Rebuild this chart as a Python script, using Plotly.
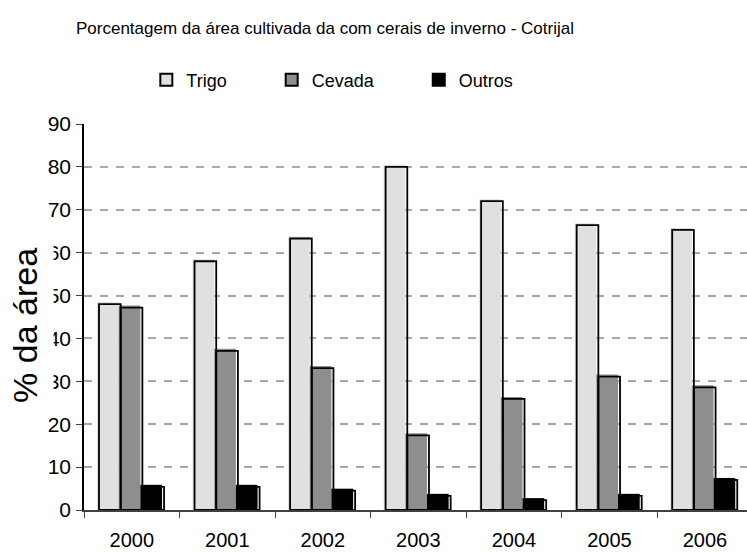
import plotly.graph_objects as go

years = ["2000", "2001", "2002", "2003", "2004", "2005", "2006"]
trigo = [48, 58, 63.3, 80, 72, 66.4, 65.3]
cevada = [47.2, 37.1, 33.1, 17.4, 25.9, 31.1, 28.6]
outros = [5.4, 5.4, 4.5, 3.3, 2.3, 3.3, 7.0]
y_ticks = [0, 10, 20, 30, 40, 50, 60, 70, 80, 90]

series = [
    ("Trigo", trigo, "#e0e0e0", -0.343),
    ("Cevada", cevada, "#8e8e8e", -0.116),
    ("Outros", outros, "#000000", 0.111),
]
bar_w = 0.227
dx = 0.021   # fill shift left (category units)
dy = 0.47    # fill shift up (value units)
PAD = "\u00a0" * 8

fig = go.Figure()

# shifted fills (shadow-like look)
for name, vals, col, off in series:
    fig.add_trace(go.Bar(
        x=years, y=[v + dy for v in vals], offset=off - dx, width=bar_w,
        marker=dict(color=col, line=dict(width=0)),
        showlegend=False, hoverinfo="skip"))

# outlines at true positions
for name, vals, col, off in series:
    fig.add_trace(go.Bar(
        x=years, y=vals, offset=off, width=bar_w, name=name,
        marker=dict(color="rgba(0,0,0,0)", line=dict(color="#000000", width=1.8)),
        showlegend=False))

# legend entries
for name, vals, col, off in series:
    fig.add_trace(go.Bar(
        x=[None], y=[None], name=name + PAD,
        marker=dict(color=col, line=dict(color="#000000", width=1.2))))

fig.update_layout(
    width=747, height=552,
    barmode="overlay",
    paper_bgcolor="white", plot_bgcolor="white",
    margin=dict(l=84, r=0, t=124, b=42, autoexpand=False),
    font=dict(family="Liberation Sans, Arial, sans-serif", color="#000000"),
    title=dict(text="Porcentagem da área cultivada da com cerais de inverno - Cotrijal",
               x=325 / 747, xanchor="center", xref="container",
               y=1 - 28 / 552, yanchor="middle", yref="container",
               font=dict(size=17, color="#000000")),
    legend=dict(orientation="h", x=0.094, xanchor="left", y=1 - 80 / 552,
                yanchor="middle", yref="container",
                font=dict(size=18), itemsizing="constant", tracegroupgap=0),
    annotations=[dict(text="% da área", textangle=-90, xref="paper", yref="paper",
                      x=0, xshift=-59, xanchor="center", y=0.477, yanchor="middle",
                      showarrow=False, bgcolor="white", borderpad=9,
                      font=dict(size=34, color="#000000"))],
)

fig.update_xaxes(
    type="category", range=[-0.5, 6.44],
    showline=True, linecolor="#404040", linewidth=1.5,
    ticks="outside", tickson="boundaries", ticklen=6, tickcolor="#404040", tickwidth=1.2,
    showgrid=False, tickfont=dict(size=20), ticklabelstandoff=11,
)
fig.update_yaxes(
    range=[0, 90], tickvals=y_ticks,
    showline=True, linecolor="#000000", linewidth=1.5,
    ticks="outside", ticklen=6, tickcolor="#404040", tickwidth=1.2,
    showgrid=True, gridcolor="#a8a8a8", gridwidth=1.5, griddash="8px,8px",
    zeroline=False, tickfont=dict(size=21), ticklabelstandoff=1,
)

fig.write_html("out.html", config={"displayModeBar": False},
               post_script="document.body.style.margin='0';")
